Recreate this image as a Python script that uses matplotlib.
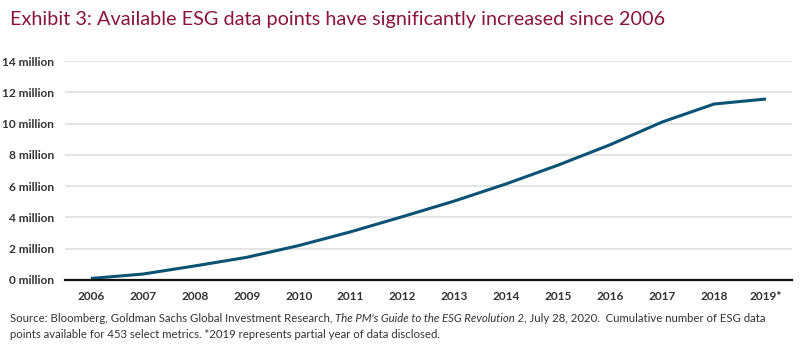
import matplotlib
matplotlib.use("Agg")
import matplotlib.pyplot as plt

# Cumulative ESG data points (millions)
years = ["2006", "2007", "2008", "2009", "2010", "2011", "2012",
         "2013", "2014", "2015", "2016", "2017", "2018", "2019*"]
points_m = [0.1, 0.38, 0.9, 1.45, 2.2, 3.08, 4.05,
            5.05, 6.15, 7.35, 8.65, 10.1, 11.25, 11.57]
y_ticks = [0, 2, 4, 6, 8, 10, 12, 14]

plt.rcParams['font.family'] = ['Lato', 'DejaVu Sans']

fig = plt.figure(figsize=(8, 3.47), dpi=100)
ax = fig.add_axes([65/800, 1 - 280/347, (792 - 65)/800, (280 - 61)/347])

x = list(range(len(years)))
ax.plot(x, points_m, color="#0b5275", lw=2.2, solid_capstyle="butt", zorder=3)

ax.set_xlim(-0.5, len(years) - 0.5)
ax.set_ylim(0, 14)
ax.set_yticks(y_ticks)
ax.set_yticklabels([f"{v} million" for v in y_ticks])
ax.set_xticks(x)
ax.set_xticklabels(years)
ax.grid(axis="y", color="#e3e3e3", lw=1.3)
ax.set_axisbelow(True)
for s in ["top", "right", "left"]:
    ax.spines[s].set_visible(False)
ax.spines["bottom"].set_color("#111111")
ax.spines["bottom"].set_linewidth(1.6)
ax.spines["bottom"].set_zorder(4)
ax.tick_params(axis="both", length=0, labelsize=8.6, labelcolor="#333333")
ax.tick_params(axis="y", pad=8)
ax.tick_params(axis="x", pad=8)
for lab in ax.get_xticklabels() + ax.get_yticklabels():
    lab.set_fontweight("bold")

fig.text(10/800, 1 - 20/347, "Exhibit 3: Available ESG data points have significantly increased since 2006",
         color="#8a1538", fontsize=14.3, va="center", ha="left")

# source note, with the report title in italics
renderer = fig.canvas.get_renderer()
parts = [("Source: Bloomberg, Goldman Sachs Global Investment Research, ", "normal"),
         ("The PM's Guide to the ESG Revolution 2", "italic"),
         (", July 28, 2020.  Cumulative number of ESG data", "normal")]
xpos = 10
for txt, style in parts:
    t = fig.text(xpos/800, 1 - 318/347, txt, fontsize=8.2, style=style,
                 color="#333333", va="center", ha="left")
    xpos += t.get_window_extent(renderer).width
fig.text(10/800, 1 - 334/347,
         "points available for 453 select metrics. *2019 represents partial year of data disclosed.",
         fontsize=8.2, color="#333333", va="center", ha="left")

fig.savefig("out.png", dpi=100)
